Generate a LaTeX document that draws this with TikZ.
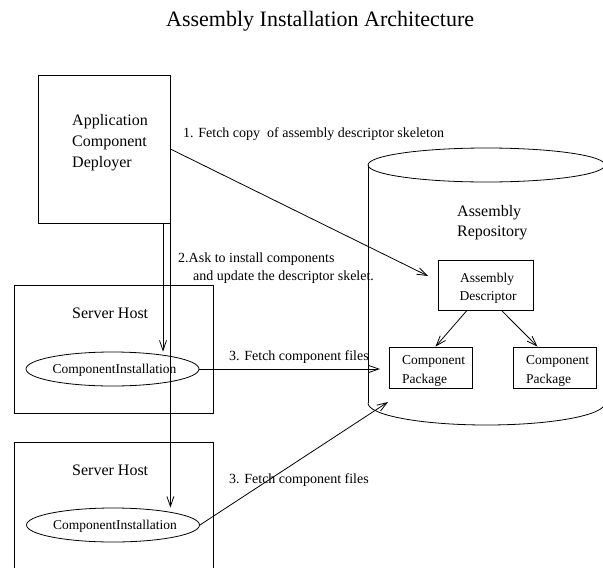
\documentclass[tikz,border=0pt]{standalone}
\usepackage{fontspec}
\setmainfont{Liberation Serif}
\usetikzlibrary{arrows.meta,shapes.geometric,calc}

\tikzset{
  box/.style={draw, line width=0.8pt, inner sep=0pt},
  oval/.style={draw, ellipse, line width=0.8pt, inner sep=0pt},
  txt/.style={inner sep=0pt, anchor=base west},
  bigtxt/.style={txt, font=\fontsize{16}{19}\selectfont},
  smalltxt/.style={txt, font=\fontsize{13.5}{16}\selectfont},
  lbl/.style={txt, font=\fontsize{14}{17}\selectfont},
  arr/.style={line width=0.8pt, -{Straight Barb[length=10pt,width=7pt]}},
  wire/.style={line width=0.8pt}
}

\begin{document}
\begin{tikzpicture}[x=1pt, y=-1pt]
\clip (0,0) rectangle (603,568);
\useasboundingbox (0,0) rectangle (603,568);

% title
\node[txt, font=\fontsize{22}{26}\selectfont] (title) at (166,26) {Assembly Installation Architecture};

% repository cylinder
\draw[wire] (486.5,165) ellipse [x radius=118.5, y radius=17];
\draw[wire] (368,165) -- (368,403);
\draw[wire] (605,165) -- (605,403);
\begin{scope}
  \clip (300,403) rectangle (700,500);
  \draw[wire] (486.5,403) ellipse [x radius=118.5, y radius=22];
\end{scope}
\node[bigtxt] (rep1) at (457,216) {Assembly};
\node[bigtxt] (rep2) at (457,236) {Repository};

% deployer
\node[box, minimum width=132pt, minimum height=148pt] (dep) at (104,149) {};
\node[bigtxt] (dep1) at (72,125) {Application};
\node[bigtxt] (dep2) at (72,146) {Component};
\node[bigtxt] (dep3) at (72,167) {Deployer};

% descriptor and packages
\node[box, minimum width=95pt, minimum height=50pt] (desc) at (485.5,285) {};
\node[smalltxt, anchor=base] (desc1) at (487,282) {Assembly};
\node[smalltxt, anchor=base] (desc2) at (488,300) {Descriptor};

\node[box, minimum width=83pt, minimum height=41pt] (pk1) at (430.5,367.5) {};
\node[smalltxt] (pk1a) at (402,364) {Component};
\node[smalltxt] (pk1b) at (402,383) {Package};

\node[box, minimum width=83pt, minimum height=41pt] (pk2) at (554.5,367.5) {};
\node[smalltxt] (pk2a) at (526,364) {Component};
\node[smalltxt] (pk2b) at (526,383) {Package};

% server hosts
\node[box, minimum width=199pt, minimum height=128pt] (sh1) at (113.5,349) {};
\node[bigtxt] (sh1t) at (72,318) {Server Host};
\node[oval, minimum width=173pt, minimum height=34pt] (ci1) at (112.5,369) {};
\node[smalltxt, anchor=base] (ci1t) at (114.5,373) {ComponentInstallation};

\node[box, minimum width=199pt, minimum height=158pt] (sh2) at (113.5,521) {};
\node[bigtxt] (sh2t) at (72,475) {Server Host};
\node[oval, minimum width=173pt, minimum height=34pt] (ci2) at (113,525) {};
\node[smalltxt, anchor=base] (ci2t) at (115,529) {ComponentInstallation};

% connector ends
\coordinate (d2) at (163,223);
\coordinate (a1) at (428,276);
\coordinate (a3) at (380,369);
\coordinate (a4) at (388,402);

% connectors
\draw[arr] (dep.east) -- (a1);
\draw[arr] (d2) -- (d2 |- ci1.north);
\draw[arr] (dep.south east) -- (dep.south east |- ci2.north);
\draw[arr] ([xshift=-18.5pt]desc.south) -- ([xshift=5pt]pk1.north);
\draw[arr] ([xshift=16pt]desc.south) -- ([xshift=-17pt]pk2.north);
\draw[arr] (ci1.east) -- (a3);
\draw[arr] (ci2.east) -- (a4);

% connector labels
\node[lbl] (l1) at (183,137) {1. Fetch copy\ \ of assembly descriptor skeleton};
\node[lbl] (l2a) at (178,262) {2.Ask to install components};
\node[lbl] (l2b) at (193,280) {and update the descriptor skelet.};
\node[lbl] (l3a) at (229,360) {3. Fetch component files};
\node[lbl] (l3b) at (229,483) {3. Fetch component files};
\end{tikzpicture}
\end{document}
